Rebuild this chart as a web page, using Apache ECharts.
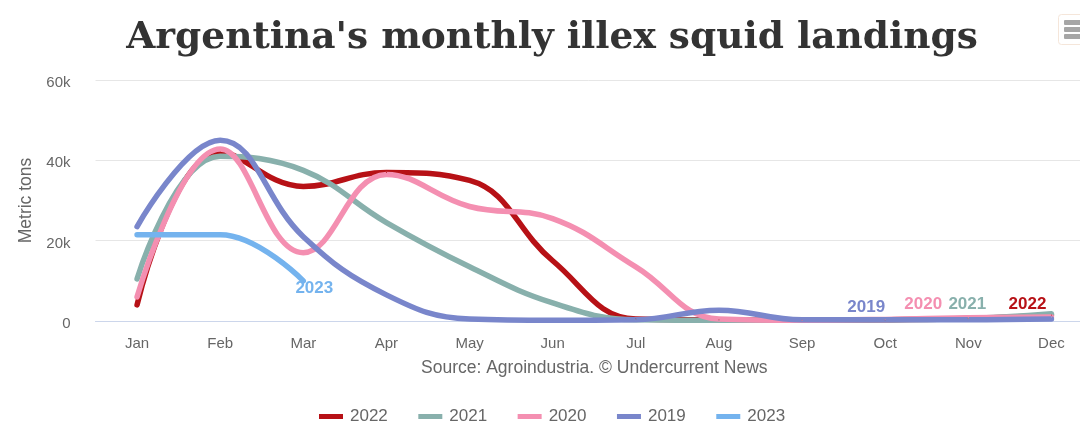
<!DOCTYPE html>
<html>
<head>
<meta charset="utf-8">
<style>
  html, body { margin: 0; padding: 0; background: #fff; overflow: hidden; }
  #main { width: 1080px; height: 443px; }
</style>
<script src="https://cdn.jsdelivr.net/npm/echarts@6/dist/echarts.min.js"></script>
</head>
<body>
<div id="main"></div>
<script>
const months = ['Jan', 'Feb', 'Mar', 'Apr', 'May', 'Jun', 'Jul', 'Aug', 'Sep', 'Oct', 'Nov', 'Dec']
const yTicks = [0, 20000, 40000, 60000]

const landings2022 = [4000, 42000, 33500, 37000, 35000, 15000, 500, 300, 200, 300, 600, 1500]
const landings2021 = [10500, 41000, 37500, 24500, 13500, 4500, 300, 200, 200, 300, 600, 1800]
const landings2020 = [6000, 42800, 17000, 36500, 28500, 25500, 13500, 500, 200, 400, 800, 1000]
const landings2019 = [23500, 45000, 21000, 6500, 500, 200, 300, 2700, 300, 300, 300, 500]
const landings2023 = [21500, 21500, 10000]

const font = '"Liberation Sans", Arial, sans-serif'

// name, values, colour, which point carries the label and how far the label is shifted
const makeSeries = (name, values, color, labelAt, dx, dy) => ({
  name,
  type: 'line',
  smooth: 0.42,
  showSymbol: true,
  showAllSymbol: true,
  symbol: 'circle',
  symbolSize: 1,
  lineStyle: { width: 5.5, color, cap: 'round', join: 'round' },
  itemStyle: { color },
  emphasis: { disabled: true },
  labelLayout: { dx, dy, hideOverlap: false },
  data: values.map((v, i) =>
    i === labelAt
      ? {
          value: v,
          label: {
            show: true,
            formatter: name,
            position: 'top',
            color,
            fontFamily: font,
            fontSize: 17,
            fontWeight: 'bold',
          },
        }
      : v
  ),
})

const chart = echarts.init(document.getElementById('main'), null, { renderer: 'canvas' })

chart.setOption({
  animation: false,
  backgroundColor: '#fff',
  title: {
    text: "Argentina's monthly illex squid landings",
    left: 547,
    top: 14,
    textAlign: 'center',
    textStyle: {
      fontFamily: '"DejaVu Serif", Georgia, serif',
      fontWeight: 'bold',
      fontSize: 37.5,
      color: '#333',
    },
  },
  legend: {
    data: ['2022', '2021', '2020', '2019', '2023'],
    left: 314,
    top: 403,
    icon: 'rect',
    itemWidth: 24,
    itemHeight: 5,
    itemGap: 30.5,
    selectedMode: false,
    textStyle: { fontFamily: font, fontSize: 17, color: '#666', padding: [0, 0, 0, 2] },
  },
  grid: { left: 95.5, right: -13, top: 80, bottom: 122, outerBoundsMode: 'none' },
  xAxis: {
    type: 'category',
    data: months,
    boundaryGap: true,
    axisTick: { show: false },
    axisLine: { lineStyle: { color: '#ccd6eb', width: 1 } },
    axisLabel: { fontFamily: font, fontSize: 15, color: '#666', margin: 15, interval: 0 },
  },
  yAxis: {
    type: 'value',
    min: yTicks[0],
    max: yTicks[yTicks.length - 1],
    interval: yTicks[1],
    name: 'Metric tons',
    nameLocation: 'middle',
    nameGap: 55,
    nameTextStyle: { fontFamily: font, fontSize: 17.5, color: '#666' },
    axisLine: { show: false },
    axisTick: { show: false },
    splitLine: { lineStyle: { color: '#e6e6e6', width: 1 } },
    axisLabel: {
      fontFamily: font,
      fontSize: 15,
      color: '#666',
      margin: 25,
      verticalAlign: 'top',
      lineHeight: 6,
      formatter: (v) => (v === 0 ? '0' : v / 1000 + 'k'),
    },
  },
  series: [
    makeSeries('2022', landings2022, '#b71116', 11, -24, 3),
    makeSeries('2021', landings2021, '#88b0ac', 10, -1, 0),
    makeSeries('2020', landings2020, '#f48fb1', 9, 38, -1),
    makeSeries('2019', landings2019, '#7986cb', 9, -19, 2),
    makeSeries('2023', landings2023, '#74b3ee', 2, 11, 21),
  ],
  graphic: [
    {
      type: 'text',
      left: 421,
      top: 359,
      style: {
        text: 'Source: Agroindustria. © Undercurrent News',
        fontFamily: font,
        fontSize: 17.5,
        fill: '#666',
      },
    },
    // export menu button, cut off by the right edge
    {
      type: 'rect',
      shape: { x: 1058.5, y: 14.5, width: 40, height: 30, r: 3 },
      style: { fill: '#fff', stroke: '#f5e6da', lineWidth: 1 },
    },
    { type: 'rect', shape: { x: 1064, y: 20, width: 20, height: 5, r: 1 }, style: { fill: '#a6a6a6' } },
    { type: 'rect', shape: { x: 1064, y: 27, width: 20, height: 5, r: 1 }, style: { fill: '#a6a6a6' } },
    { type: 'rect', shape: { x: 1064, y: 34, width: 20, height: 5, r: 1 }, style: { fill: '#a6a6a6' } },
  ],
})
</script>
</body>
</html>
